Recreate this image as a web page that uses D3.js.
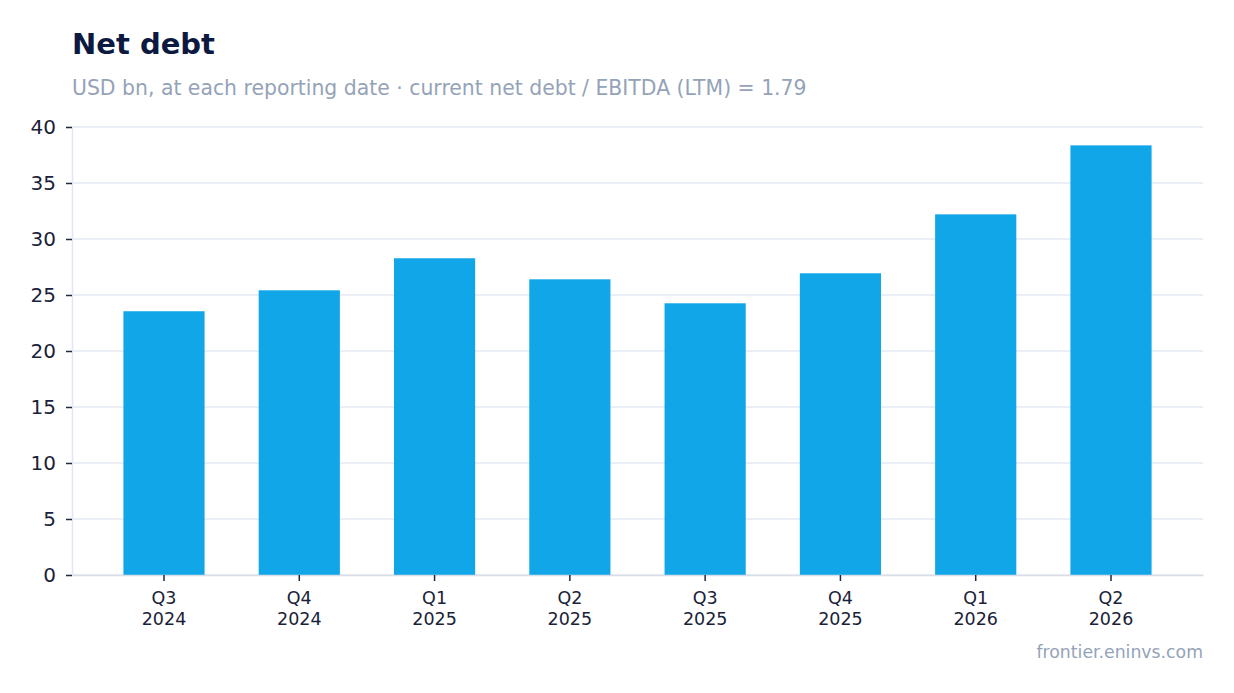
<!DOCTYPE html>
<html>
<head>
<meta charset="utf-8">
<script src="https://cdn.jsdelivr.net/npm/d3@7"></script>
<style>
  body { margin: 0; background: #fff; }
  svg, svg text { font-family: "DejaVu Sans", sans-serif; }
</style>
</head>
<body>
<div class="chart"></div>
<script>
// data
const quarters = ["Q3", "Q4", "Q1", "Q2", "Q3", "Q4", "Q1", "Q2"];
const years = ["2024", "2024", "2025", "2025", "2025", "2025", "2026", "2026"];
const netDebt = [23.55, 25.42, 28.28, 26.4, 24.26, 26.94, 32.2, 38.36];
const yTicks = [0, 5, 10, 15, 20, 25, 30, 35, 40];

const width = 1234, height = 693;
const margin = {top: 127, right: 31, bottom: 118, left: 72};
const keys = quarters.map((q, i) => i);

const svg = d3.select(".chart").append("svg")
    .attr("width", width)
    .attr("height", height);

const x = d3.scaleBand()
    .domain(keys)
    .range([margin.left, width - margin.right])
    .paddingInner(0.4)
    .paddingOuter(0.38);

const y = d3.scaleLinear()
    .domain([0, 40])
    .range([height - margin.bottom, margin.top]);

// title + subtitle
svg.append("text")
    .attr("x", 72).attr("y", 54)
    .attr("fill", "#0c1a3f")
    .style("font-size", "29px").style("font-weight", "bold")
    .text("Net debt");
svg.append("text")
    .attr("x", 72).attr("y", 95)
    .attr("fill", "#94a3b8")
    .style("font-size", "20.4px")
    .text("USD bn, at each reporting date · current net debt / EBITDA (LTM) = 1.79");

// grid
svg.append("g")
  .selectAll("line")
  .data(yTicks)
  .join("line")
    .attr("x1", margin.left).attr("x2", width - margin.right)
    .attr("y1", d => y(d)).attr("y2", d => y(d))
    .attr("stroke", "#e5e9f0").attr("stroke-width", 1.5);

// bars
svg.append("g")
  .selectAll("rect")
  .data(netDebt)
  .join("rect")
    .attr("x", (d, i) => x(i))
    .attr("width", x.bandwidth())
    .attr("y", d => y(d))
    .attr("height", d => y(0) - y(d))
    .attr("fill", "#10a6e8");

// y axis
const yAxis = svg.append("g")
    .attr("transform", `translate(${margin.left},0)`)
    .call(d3.axisLeft(y).tickValues(yTicks).tickSize(6).tickPadding(10));
yAxis.attr("font-family", null);
yAxis.select(".domain").attr("stroke", "#e2e8f0").attr("stroke-width", 1.5);
yAxis.selectAll(".tick line").attr("stroke", "#1e293b").attr("stroke-width", 1.5);
yAxis.selectAll(".tick text").attr("fill", "#1a2238").style("font-size", "20px");

// x axis
const xAxis = svg.append("g")
    .attr("transform", `translate(0,${y(0)})`)
    .call(d3.axisBottom(x).tickSize(6).tickSizeOuter(0).tickFormat(() => ""));
xAxis.attr("font-family", null);
xAxis.select(".domain").attr("stroke", "#d9dee8").attr("stroke-width", 1.5);
xAxis.selectAll(".tick line").attr("stroke", "#1e293b").attr("stroke-width", 1.5);
xAxis.selectAll(".tick text").remove();
xAxis.selectAll(".tick").append("text")
    .attr("fill", "#1a2238")
    .attr("text-anchor", "middle")
    .style("font-size", "17.5px")
    .each(function(i) {
      const t = d3.select(this);
      t.append("tspan").attr("x", 0).attr("y", 29).text(quarters[i]);
      t.append("tspan").attr("x", 0).attr("y", 50).text(years[i]);
    });

// source
svg.append("text")
    .attr("x", width - margin.right).attr("y", 658)
    .attr("text-anchor", "end")
    .attr("fill", "#94a3b8")
    .style("font-size", "17.3px")
    .text("frontier.eninvs.com");
</script>
</body>
</html>
